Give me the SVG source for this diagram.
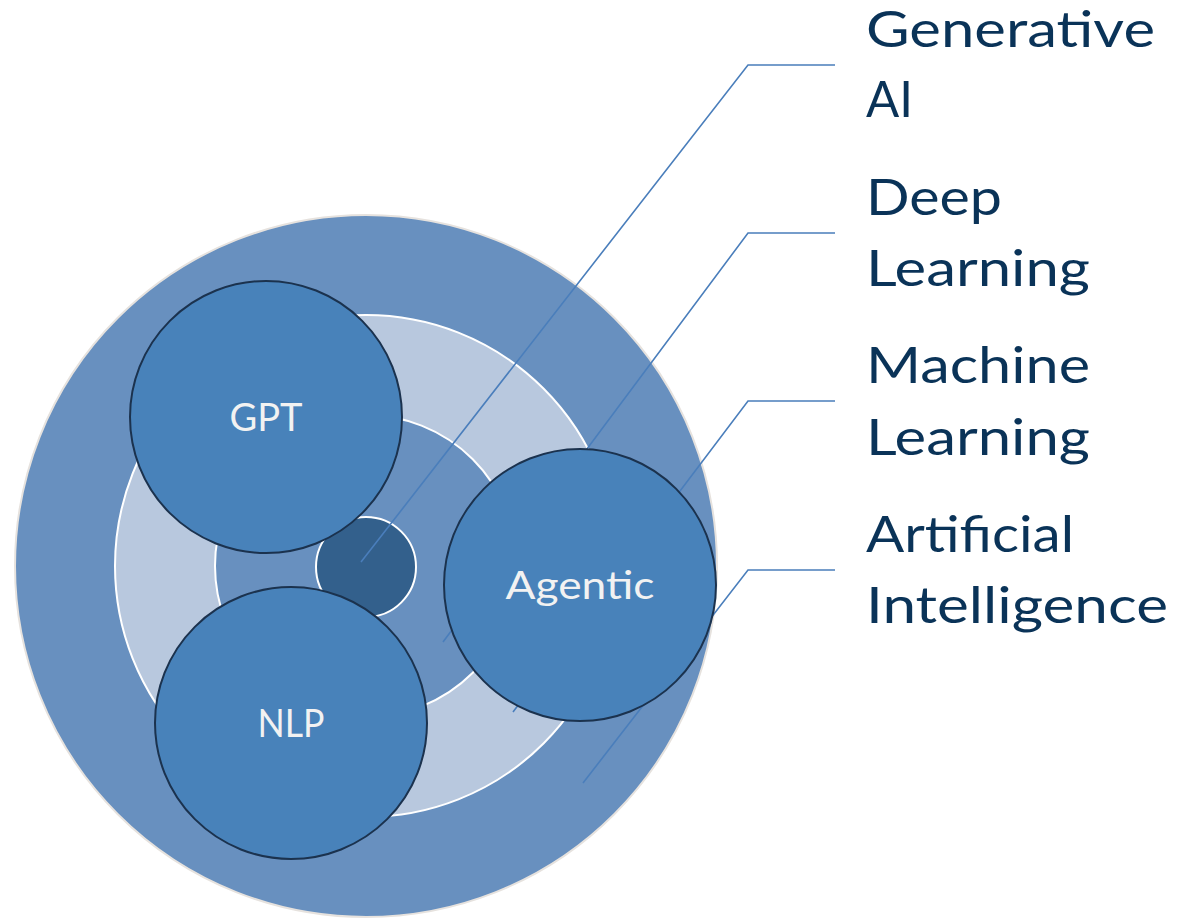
<svg xmlns="http://www.w3.org/2000/svg" width="1183" height="918" viewBox="0 0 1183 918">
<style>
.ring{stroke:#ffffff;stroke-width:2}
.big{fill:#4882BA;stroke:#1B324E;stroke-width:2}
.lead{fill:none;stroke:#4A7EBB;stroke-width:1.6}
.lbl{font-family:"Lato","Open Sans",sans-serif;font-size:50px;fill:#0A3358}
.in{font-family:"Lato","Open Sans",sans-serif;font-size:38px;fill:#F2F2F2;text-anchor:middle}
</style>
<rect width="1183" height="918" fill="#ffffff"/>
<g id="rings">
<circle id="ai" cx="366" cy="566" r="351" fill="#6890BF" stroke="#E6E2DE" stroke-width="2"/>
<circle id="ml" class="ring" cx="366" cy="566" r="251" fill="#B8C8DE"/>
<circle id="dl" class="ring" cx="366" cy="566" r="151" fill="#6890BF"/>
<circle id="gen" class="ring" cx="366" cy="567" r="50" fill="#33608C"/>
</g>
<g id="connectors">
<polyline class="lead" points="361,562 748,65 835,65"/>
<polyline class="lead" points="443,642 748,233 835,233"/>
<polyline class="lead" points="513,712 748,401 835,401"/>
<polyline class="lead" points="583,783 748,570 835,570"/>
</g>
<g id="gpt">
<circle class="big" cx="266" cy="417" r="136"/>
<text class="in" x="266" y="431" textLength="73" lengthAdjust="spacingAndGlyphs">GPT</text>
</g>
<g id="nlp">
<circle class="big" cx="291" cy="723" r="136"/>
<text class="in" x="291" y="737" textLength="67" lengthAdjust="spacingAndGlyphs">NLP</text>
</g>
<g id="agentic">
<circle class="big" cx="580" cy="585" r="136"/>
<text class="in" x="580" y="599" textLength="149" lengthAdjust="spacingAndGlyphs">Agentic</text>
</g>
<g id="labels">
<text class="lbl" x="866" y="47" textLength="289" lengthAdjust="spacingAndGlyphs">Generative</text>
<text class="lbl" x="866" y="117" textLength="47" lengthAdjust="spacingAndGlyphs">AI</text>
<text class="lbl" x="866" y="215" textLength="136" lengthAdjust="spacingAndGlyphs">Deep</text>
<text class="lbl" x="866" y="286" textLength="224" lengthAdjust="spacingAndGlyphs">Learning</text>
<text class="lbl" x="866" y="383" textLength="224" lengthAdjust="spacingAndGlyphs">Machine</text>
<text class="lbl" x="866" y="455" textLength="224" lengthAdjust="spacingAndGlyphs">Learning</text>
<text class="lbl" x="866" y="552" textLength="208" lengthAdjust="spacingAndGlyphs">Artificial</text>
<text class="lbl" x="866" y="623" textLength="302" lengthAdjust="spacingAndGlyphs">Intelligence</text>
</g>
</svg>
